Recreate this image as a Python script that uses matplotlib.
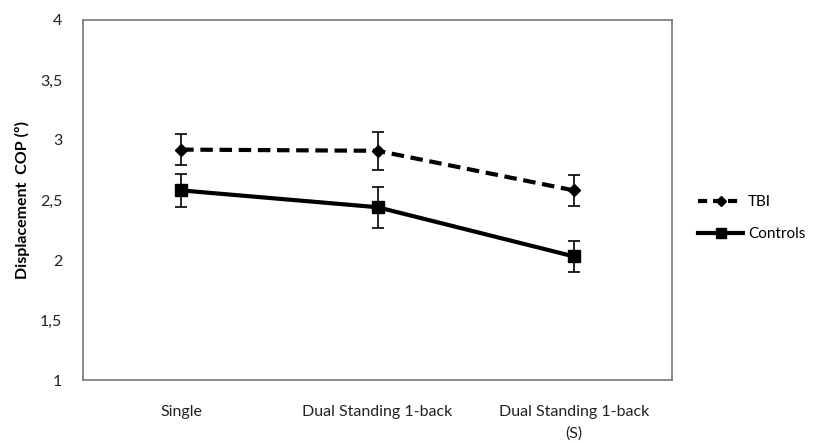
import matplotlib
matplotlib.use("Agg")
import matplotlib.pyplot as plt
from matplotlib.ticker import FuncFormatter
from matplotlib.lines import Line2D

categories = ["Single", "Dual Standing 1-back", "Dual Standing 1-back\n(S)"]
tbi = [2.92, 2.91, 2.58]
tbi_err = [0.13, 0.16, 0.13]
controls = [2.58, 2.44, 2.03]
controls_err = [0.14, 0.17, 0.13]

plt.rcParams['font.family'] = ['Lato', 'DejaVu Sans']

fig = plt.figure(figsize=(8.35, 4.43), dpi=100)
ax = fig.add_axes([0.0994, 0.142, 0.7055, 0.813])
x = [0.5, 1.5, 2.5]
ax.errorbar(x, tbi, yerr=tbi_err, color='black', linestyle='--', dashes=(3, 1.6), lw=3,
            marker='D', markersize=6.5, capsize=4, elinewidth=1.2, capthick=1.2)
ax.errorbar(x, controls, yerr=controls_err, color='black', linestyle='-', lw=3,
            marker='s', markersize=9, capsize=4, elinewidth=1.2, capthick=1.2)
ax.set_xlim(0, 3)
ax.set_ylim(1, 4)
ax.set_yticks([1, 1.5, 2, 2.5, 3, 3.5, 4])
ax.yaxis.set_major_formatter(FuncFormatter(lambda v, p: (f"{v:g}").replace('.', ',')))
ax.set_xticks(x)
ax.set_xticklabels(categories, fontsize=11, color='#222222', linespacing=1.6)
ax.tick_params(axis='both', length=0, labelsize=11.5, colors='#222222')
ax.tick_params(axis='x', pad=18)
ax.tick_params(axis='y', pad=15)
for s in ax.spines.values():
    s.set_color('#777777')
    s.set_linewidth(1.2)
ax.set_ylabel("Displacement  COP (º)", fontsize=11.5, fontweight='bold', labelpad=7)
handles = [
    Line2D([], [], color='black', linestyle='--', dashes=(2.2, 1.4), lw=3, marker='D', markersize=5.5),
    Line2D([], [], color='black', linestyle='-', lw=3, marker='s', markersize=7),
]
ax.legend(handles, ['TBI', 'Controls'], loc='center left', bbox_to_anchor=(1.02, 0.45),
          frameon=False, fontsize=11, handlelength=3, labelspacing=1.2, handletextpad=0.3)
fig.savefig("out.png", dpi=100)
